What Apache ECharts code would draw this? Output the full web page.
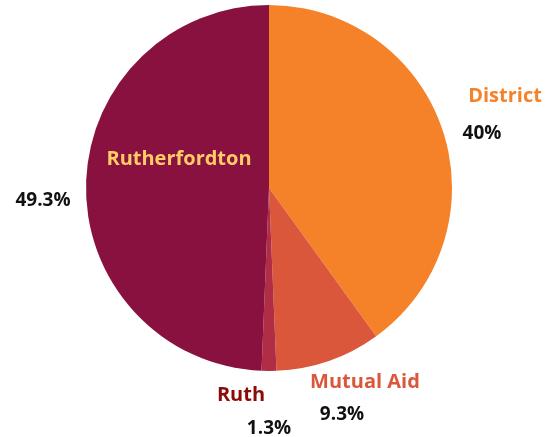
<!DOCTYPE html>
<html>
<head>
<meta charset="utf-8">
<script src="https://cdn.jsdelivr.net/npm/echarts@6/dist/echarts.min.js"></script>
<style>
  html, body { margin: 0; padding: 0; background: #fff; }
  #chart { width: 559px; height: 437px; }
</style>
</head>
<body>
<div id="chart"></div>
<script>
const categories = ['District', 'Mutual Aid', 'Ruth', 'Rutherfordton'];
const shares = [40, 9.3, 1.3, 49.3];
const shareLabels = ['40%', '9.3%', '1.3%', '49.3%'];

const sliceColors = ['#F58229', '#DB573B', '#B12D45', '#88113F'];
const nameColors = ['#F58229', '#DB573B', '#8B0A0A', '#FFCC66'];

// label anchor points (style only)
const namePos = {
    'District': [505, 96],
    'Mutual Aid': [365, 382],
    'Ruth': [241, 395],
    'Rutherfordton': [179, 159]
};
const pctPos = {
    'District': [482, 134],
    'Mutual Aid': [342, 415],
    'Ruth': [269, 429],
    'Rutherfordton': [43, 201]
};

const fontFamily = 'Open Sans, DejaVu Sans, sans-serif';

const sliceData = categories.map((name, i) => ({
    name: name,
    value: shares[i],
    itemStyle: { color: sliceColors[i] },
    label: { color: nameColors[i] }
}));

const pctData = categories.map((name, i) => ({
    name: name,
    value: shares[i],
    pct: shareLabels[i]
}));

function layoutFrom(positions) {
    return function (params) {
        const p = positions[categories[params.dataIndex]];
        return { x: p[0], y: p[1], align: 'center', verticalAlign: 'middle' };
    };
}

const chart = echarts.init(document.getElementById('chart'));
chart.setOption({
    animation: false,
    backgroundColor: '#fff',
    series: [
        {
            name: 'slices',
            type: 'pie',
            center: [269, 188],
            radius: 183,
            startAngle: 90,
            clockwise: true,
            silent: true,
            data: sliceData,
            label: {
                show: true,
                position: 'inside',
                overflow: 'none',
                formatter: '{b}',
                fontFamily: fontFamily,
                fontWeight: 'bold',
                fontSize: 20
            },
            labelLine: { show: false },
            labelLayout: layoutFrom(namePos)
        },
        {
            name: 'percent',
            type: 'pie',
            center: [269, 188],
            radius: 183,
            startAngle: 90,
            clockwise: true,
            silent: true,
            z: 3,
            data: pctData,
            itemStyle: { color: 'rgba(0,0,0,0)' },
            label: {
                show: true,
                position: 'inside',
                overflow: 'none',
                formatter: p => p.data.pct,
                color: '#111',
                fontFamily: fontFamily,
                fontWeight: 'bold',
                fontSize: 19
            },
            labelLine: { show: false },
            labelLayout: layoutFrom(pctPos)
        }
    ]
});
</script>
</body>
</html>
